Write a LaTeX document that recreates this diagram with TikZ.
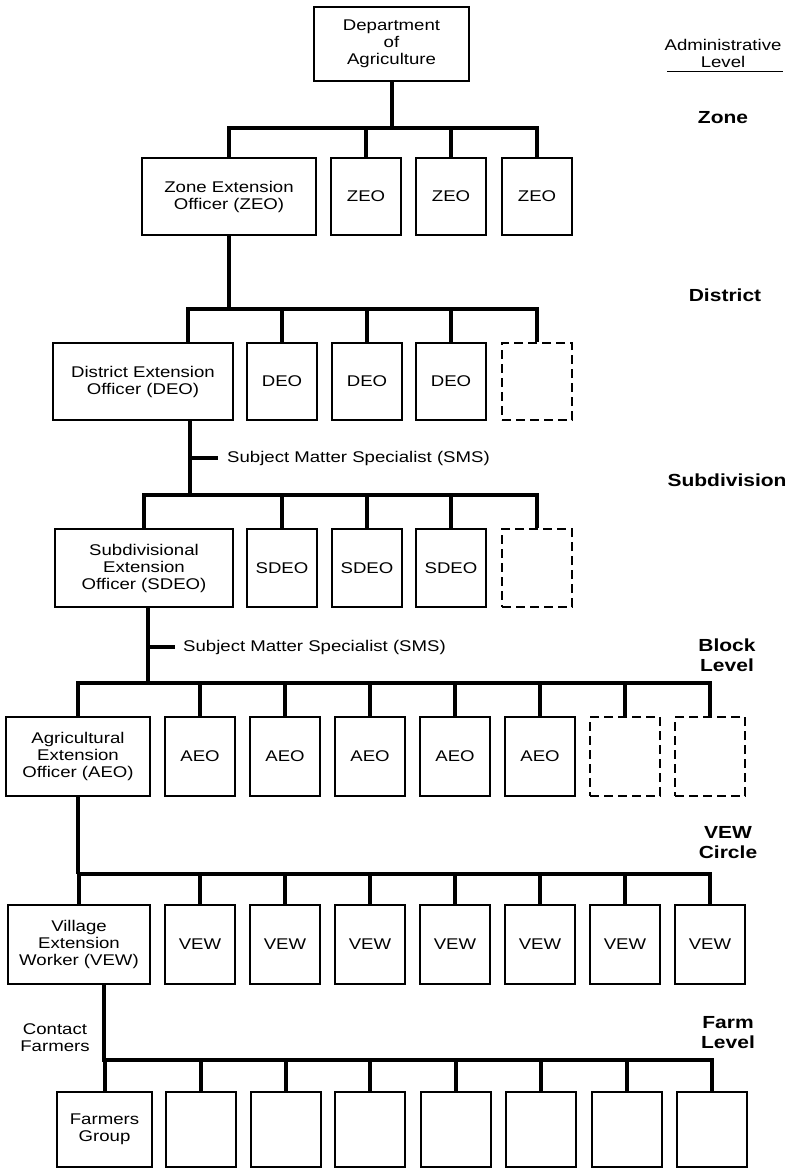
\documentclass[tikz,border=0pt]{standalone}
\usepackage{fontspec}
\setmainfont[FakeStretch=1.2]{Liberation Sans}
\usetikzlibrary{positioning, calc}

\begin{document}
\begin{tikzpicture}[
    x=1pt, y=-1pt,
    every node/.style={font=\fontsize{15.5}{17}\selectfont},
    unit/.style={draw=black, line width=1.5pt, align=center, inner sep=0pt, minimum width=70pt},
    vacant/.style={unit, dash pattern=on 9pt off 5pt},
    link/.style={draw=black, line width=4pt, line join=miter},
    rank/.style={font=\fontsize{17.5}{20}\selectfont\bfseries, align=center},
    note/.style={anchor=west, inner sep=0pt}
]
\useasboundingbox (0,0) rectangle (788,1169);

% Head office
\node[unit, minimum width=155pt, minimum height=74pt] (dept) at (391.5,44) {Department\\of\\Agriculture};

% Zone
\node[unit, minimum width=174pt, minimum height=77pt] (zeo0) at (229,196.5) {Zone Extension\\Officer (ZEO)};
\node[unit, minimum height=77pt] (zeo1) at (366,196.5) {ZEO};
\node[unit, minimum height=77pt] (zeo2) at (451,196.5) {ZEO};
\node[unit, minimum height=77pt] (zeo3) at (537,196.5) {ZEO};

% District
\node[unit, minimum width=180pt, minimum height=77pt] (deo0) at (143,381.5) {District Extension\\Officer (DEO)};
\node[unit, minimum height=77pt] (deo1) at (282,381.5) {DEO};
\node[unit, minimum height=77pt] (deo2) at (367,381.5) {DEO};
\node[unit, minimum height=77pt] (deo3) at (451,381.5) {DEO};
\node[vacant, minimum height=77pt] (deo4) at (537,381.5) {};

% Subdivision
\node[unit, minimum width=178pt, minimum height=78pt] (sdeo0) at (144,568) {Subdivisional\\Extension\\Officer (SDEO)};
\node[unit, minimum height=78pt] (sdeo1) at (282,568) {SDEO};
\node[unit, minimum height=78pt] (sdeo2) at (367,568) {SDEO};
\node[unit, minimum height=78pt] (sdeo3) at (451,568) {SDEO};
\node[vacant, minimum height=78pt] (sdeo4) at (537,568) {};

% Block
\node[unit, minimum width=144pt, minimum height=79pt] (aeo0) at (78,756.5) {Agricultural\\Extension\\Officer (AEO)};
\node[unit, minimum height=79pt] (aeo1) at (200,756.5) {AEO};
\node[unit, minimum height=79pt] (aeo2) at (285,756.5) {AEO};
\node[unit, minimum height=79pt] (aeo3) at (370,756.5) {AEO};
\node[unit, minimum height=79pt] (aeo4) at (455,756.5) {AEO};
\node[unit, minimum height=79pt] (aeo5) at (540,756.5) {AEO};
\node[vacant, minimum height=79pt] (aeo6) at (625,756.5) {};
\node[vacant, minimum height=79pt] (aeo7) at (710,756.5) {};

% VEW circle
\node[unit, minimum width=142pt, minimum height=79pt] (vew0) at (79,944.5) {Village\\Extension\\Worker (VEW)};
\node[unit, minimum height=79pt] (vew1) at (200,944.5) {VEW};
\node[unit, minimum height=79pt] (vew2) at (285,944.5) {VEW};
\node[unit, minimum height=79pt] (vew3) at (370,944.5) {VEW};
\node[unit, minimum height=79pt] (vew4) at (455,944.5) {VEW};
\node[unit, minimum height=79pt] (vew5) at (540,944.5) {VEW};
\node[unit, minimum height=79pt] (vew6) at (625,944.5) {VEW};
\node[unit, minimum height=79pt] (vew7) at (710,944.5) {VEW};

% Farm
\node[unit, minimum width=95pt, minimum height=75pt] (farm0) at (104.5,1129.5) {Farmers\\Group};
\node[unit, minimum height=75pt] (farm1) at (201,1129.5) {};
\node[unit, minimum height=75pt] (farm2) at (286,1129.5) {};
\node[unit, minimum height=75pt] (farm3) at (370,1129.5) {};
\node[unit, minimum height=75pt] (farm4) at (456,1129.5) {};
\node[unit, minimum height=75pt] (farm5) at (541,1129.5) {};
\node[unit, minimum height=75pt] (farm6) at (627,1129.5) {};
\node[unit, minimum height=75pt] (farm7) at (712,1129.5) {};

% Bars
\coordinate (zbar) at (0,128);
\coordinate (dbar) at (0,309);
\coordinate (sbar) at (0,495);
\coordinate (bbar) at (0,683);
\coordinate (vbar) at (0,874);
\coordinate (fbar) at (0,1060);

% Zone links
\draw[link] (dept.south) -- (dept.south |- zbar);
\draw[link] (zeo0.north) -- (zeo0.north |- zbar) -- (zeo3.north |- zbar) -- (zeo3.north);
\draw[link] (zeo1.north) -- (zeo1.north |- zbar);
\draw[link] (zeo2.north) -- (zeo2.north |- zbar);

% District links
\coordinate (d0) at ([xshift=45pt]deo0.north);
\draw[link] (zeo0.south) -- (zeo0.south |- dbar);
\draw[link] (d0) -- (d0 |- dbar) -- (deo4.north |- dbar) -- (deo4.north);
\draw[link] (deo1.north) -- (deo1.north |- dbar);
\draw[link] (deo2.north) -- (deo2.north |- dbar);
\draw[link] (deo3.north) -- (deo3.north |- dbar);

% Subdivision links
\node[note] (sms1) at (227,458) {Subject Matter Specialist (SMS)};
\coordinate (d1) at ([xshift=47pt]deo0.south);
\draw[link] (d1) -- (d1 |- sbar);
\draw[link] (d1 |- sms1.west) -- ([xshift=-9pt]sms1.west);
\draw[link] (sdeo0.north) -- (sdeo0.north |- sbar) -- (sdeo4.north |- sbar) -- (sdeo4.north);
\draw[link] (sdeo1.north) -- (sdeo1.north |- sbar);
\draw[link] (sdeo2.north) -- (sdeo2.north |- sbar);
\draw[link] (sdeo3.north) -- (sdeo3.north |- sbar);

% Block links
\node[note] (sms2) at (183,647) {Subject Matter Specialist (SMS)};
\coordinate (s1) at ([xshift=4pt]sdeo0.south);
\draw[link] (s1) -- (s1 |- bbar);
\draw[link] (s1 |- sms2.west) -- ([xshift=-8pt]sms2.west);
\draw[link] (aeo0.north) -- (aeo0.north |- bbar) -- (aeo7.north |- bbar) -- (aeo7.north);
\draw[link] (aeo1.north) -- (aeo1.north |- bbar);
\draw[link] (aeo2.north) -- (aeo2.north |- bbar);
\draw[link] (aeo3.north) -- (aeo3.north |- bbar);
\draw[link] (aeo4.north) -- (aeo4.north |- bbar);
\draw[link] (aeo5.north) -- (aeo5.north |- bbar);
\draw[link] (aeo6.north) -- (aeo6.north |- bbar);

% VEW links
\draw[link] (aeo0.south) -- (aeo0.south |- vbar);
\draw[link] (vew0.north |- vbar) -- (vew7.north |- vbar) -- (vew7.north);
\draw[link] (vew1.north) -- (vew1.north |- vbar);
\draw[link] (vew2.north) -- (vew2.north |- vbar);
\draw[link] (vew3.north) -- (vew3.north |- vbar);
\draw[link] (vew4.north) -- (vew4.north |- vbar);
\draw[link] (vew5.north) -- (vew5.north |- vbar);
\draw[link] (vew6.north) -- (vew6.north |- vbar);
\draw[link] (vew0.north) -- (vew0.north |- vbar);

% Farm links
\coordinate (v1) at ([xshift=25pt]vew0.south);
\node[align=center] (contact) at (55,1037.5) {Contact\\Farmers};
\draw[link] (v1) -- (v1 |- fbar) -- (farm7.north |- fbar) -- (farm7.north);
\draw[link] (farm0.north) -- (farm0.north |- fbar);
\draw[link] (farm1.north) -- (farm1.north |- fbar);
\draw[link] (farm2.north) -- (farm2.north |- fbar);
\draw[link] (farm3.north) -- (farm3.north |- fbar);
\draw[link] (farm4.north) -- (farm4.north |- fbar);
\draw[link] (farm5.north) -- (farm5.north |- fbar);
\draw[link] (farm6.north) -- (farm6.north |- fbar);

% Administrative levels
\node (admin) at (723,45) {Administrative};
\node (lvl) at (723,62) {Level};
\draw[line width=1pt] (667,72) -- (783,72);
\node[rank] (zone) at (723,118) {Zone};
\node[rank] (district) at (725,295) {District};
\node[rank] (subdiv) at (727,480) {Subdivision};
\node[rank] (block) at (727,655) {Block\\Level};
\node[rank] (circle) at (728,843) {VEW\\Circle};
\node[rank] (farm) at (728,1032.5) {Farm\\Level};

\end{tikzpicture}
\end{document}
